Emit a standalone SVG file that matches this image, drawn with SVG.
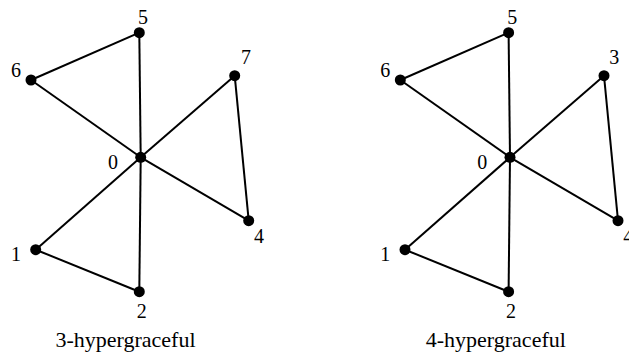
<svg xmlns="http://www.w3.org/2000/svg" width="629" height="356" viewBox="0 0 629 356">
<style>
.e{stroke:#000;stroke-width:2;fill:none}
.n{fill:#000}
.t{font-family:"Liberation Serif","Times New Roman",serif;font-size:20px;fill:#000;text-anchor:middle}
.c{font-family:"Liberation Serif","Times New Roman",serif;font-size:22px;fill:#000;text-anchor:middle}
</style>
<rect width="629" height="356" fill="#fff"/>
<g id="graph-left">
<g id="edges-left">
<line class="e" x1="140.7" y1="157.3" x2="139.3" y2="32.7"/>
<line class="e" x1="140.7" y1="157.3" x2="31" y2="80"/>
<line class="e" x1="139.3" y1="32.7" x2="31" y2="80"/>
<line class="e" x1="140.7" y1="157.3" x2="234.7" y2="75.7"/>
<line class="e" x1="234.7" y1="75.7" x2="248.7" y2="220.7"/>
<line class="e" x1="140.7" y1="157.3" x2="248.7" y2="220.7"/>
<line class="e" x1="140.7" y1="157.3" x2="35.7" y2="249.7"/>
<line class="e" x1="140.7" y1="157.3" x2="139.3" y2="291.7"/>
<line class="e" x1="35.7" y1="249.7" x2="139.3" y2="291.7"/>
</g>
<g id="L0"><circle class="n" cx="140.7" cy="157.3" r="5.5"/><text class="t" x="113" y="169">0</text></g>
<g id="L1"><circle class="n" cx="35.7" cy="249.7" r="5.5"/><text class="t" x="16" y="260.7">1</text></g>
<g id="L2"><circle class="n" cx="139.3" cy="291.7" r="5.5"/><text class="t" x="141.7" y="317.7">2</text></g>
<g id="L4"><circle class="n" cx="248.7" cy="220.7" r="5.5"/><text class="t" x="259" y="242.7">4</text></g>
<g id="L5"><circle class="n" cx="139.3" cy="32.7" r="5.5"/><text class="t" x="143" y="24">5</text></g>
<g id="L6"><circle class="n" cx="31" cy="80" r="5.5"/><text class="t" x="16" y="77">6</text></g>
<g id="L7"><circle class="n" cx="234.7" cy="75.7" r="5.5"/><text class="t" x="246" y="64">7</text></g>
<text class="c" x="125.5" y="346.5">3-hypergraceful</text>
</g>
<g id="graph-right" transform="translate(369.3,0)">
<g id="edges-right">
<line class="e" x1="140.7" y1="157.3" x2="139.3" y2="32.7"/>
<line class="e" x1="140.7" y1="157.3" x2="31" y2="80"/>
<line class="e" x1="139.3" y1="32.7" x2="31" y2="80"/>
<line class="e" x1="140.7" y1="157.3" x2="234.7" y2="75.7"/>
<line class="e" x1="234.7" y1="75.7" x2="248.7" y2="220.7"/>
<line class="e" x1="140.7" y1="157.3" x2="248.7" y2="220.7"/>
<line class="e" x1="140.7" y1="157.3" x2="35.7" y2="249.7"/>
<line class="e" x1="140.7" y1="157.3" x2="139.3" y2="291.7"/>
<line class="e" x1="35.7" y1="249.7" x2="139.3" y2="291.7"/>
</g>
<g id="R0"><circle class="n" cx="140.7" cy="157.3" r="5.5"/><text class="t" x="113" y="169">0</text></g>
<g id="R1"><circle class="n" cx="35.7" cy="249.7" r="5.5"/><text class="t" x="16" y="260.7">1</text></g>
<g id="R2"><circle class="n" cx="139.3" cy="291.7" r="5.5"/><text class="t" x="141.7" y="317.7">2</text></g>
<g id="R4"><circle class="n" cx="248.7" cy="220.7" r="5.5"/><text class="t" x="259" y="242.7">4</text></g>
<g id="R5"><circle class="n" cx="139.3" cy="32.7" r="5.5"/><text class="t" x="143" y="24">5</text></g>
<g id="R6"><circle class="n" cx="31" cy="80" r="5.5"/><text class="t" x="16" y="77">6</text></g>
<g id="R3"><circle class="n" cx="234.7" cy="75.7" r="5.5"/><text class="t" x="245" y="64">3</text></g>
<text class="c" x="126.5" y="346.5">4-hypergraceful</text>
</g>
</svg>
